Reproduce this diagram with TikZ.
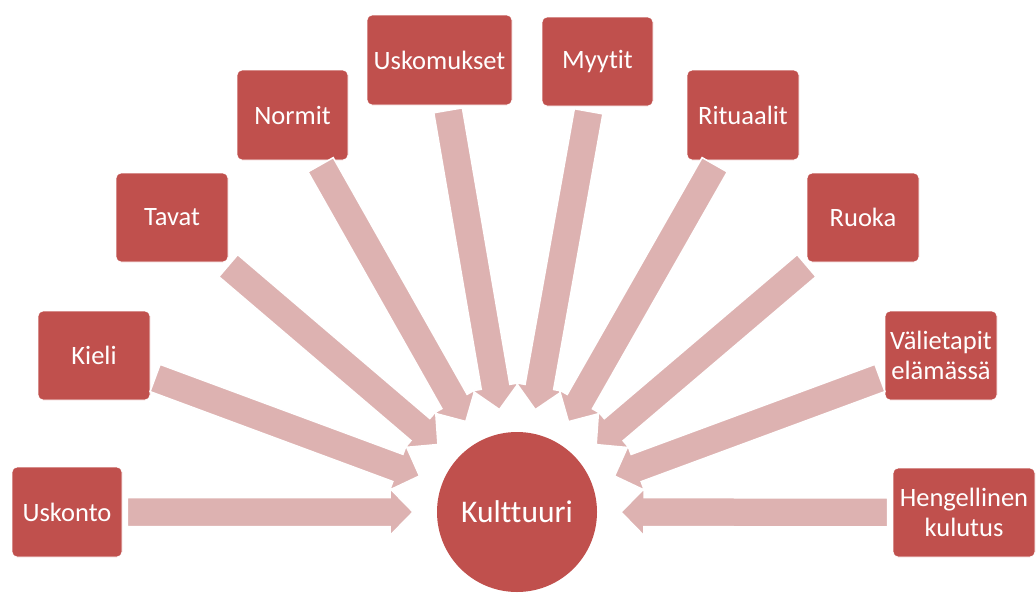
\documentclass[tikz,border=0pt]{standalone}
\usepackage{fontspec}
\setmainfont{Carlito}[Ligatures=NoCommon]
\usetikzlibrary{calc}
\definecolor{boxred}{RGB}{192,80,77}
\definecolor{arrowpink}{RGB}{221,178,177}
\begin{document}
\begin{tikzpicture}[x=1pt,y=-1pt,
  box/.style={rectangle, rounded corners=5pt, fill=boxred, draw=white, line width=0.8pt,
    text=white, font=\fontsize{26.5}{30}\selectfont, align=center, inner sep=0pt},
  hub/.style={circle, fill=boxred, text=white, font=\fontsize{31.5}{36}\selectfont,
    minimum size=160pt, inner sep=0pt},
  bigarrow/.style={fill=arrowpink, draw=white, line width=1.5pt, line join=miter}]
\useasboundingbox (0,0) rectangle (1036,592);
\clip (0,0) rectangle (1036,592);
\node[box, minimum width=110pt, minimum height=90pt] (b1) at (67,512) {Uskonto};
\node[box, minimum width=112pt, minimum height=89pt] (b2) at (94,355.5) {Kieli};
\node[box, minimum width=112pt, minimum height=89pt] (b3) at (172,217.5) {Tavat};
\node[box, minimum width=111pt, minimum height=90pt] (b4) at (292.5,115) {Normit};
\node[box, minimum width=145pt, minimum height=90pt] (b5) at (439.5,60) {Uskomukset};
\node[box, minimum width=111pt, minimum height=89pt] (b6) at (597.5,61.5) {Myytit};
\node[box, minimum width=112pt, minimum height=90pt] (b7) at (743,115) {Rituaalit};
\node[box, minimum width=112pt, minimum height=89pt] (b8) at (863,217.5) {Ruoka};
\node[box, minimum width=112pt, minimum height=89pt] (b9) at (941,355.5) {Välietapit\\elämässä};
\node[box, minimum width=142pt, minimum height=89pt] (b10) at (964,512.5) {Hengellinen\\kulutus};
\node[hub] (c) at (517,512) {Kulttuuri};
\foreach \b in {b1,b2,b3,b4,b5,b6,b7,b8,b9,b10} {
  \path (\b) -- (c.center) coordinate[pos=0] (s0);
  \coordinate (s) at ($(s0)!5pt!(c.center)$);
  \coordinate (t) at ($(c.center)!104pt!(\b.center)$);
  \coordinate (hb) at ($(t)!23pt!(s)$);
  \filldraw[bigarrow] ($(s)!14.5pt!90:(t)$) -- ($(hb)!14.5pt!90:(t)$) -- ($(hb)!23.5pt!90:(t)$)
    -- (t) -- ($(hb)!23.5pt!-90:(t)$) -- ($(hb)!14.5pt!-90:(t)$) -- ($(s)!14.5pt!-90:(t)$) -- cycle;
}
\end{tikzpicture}
\end{document}
